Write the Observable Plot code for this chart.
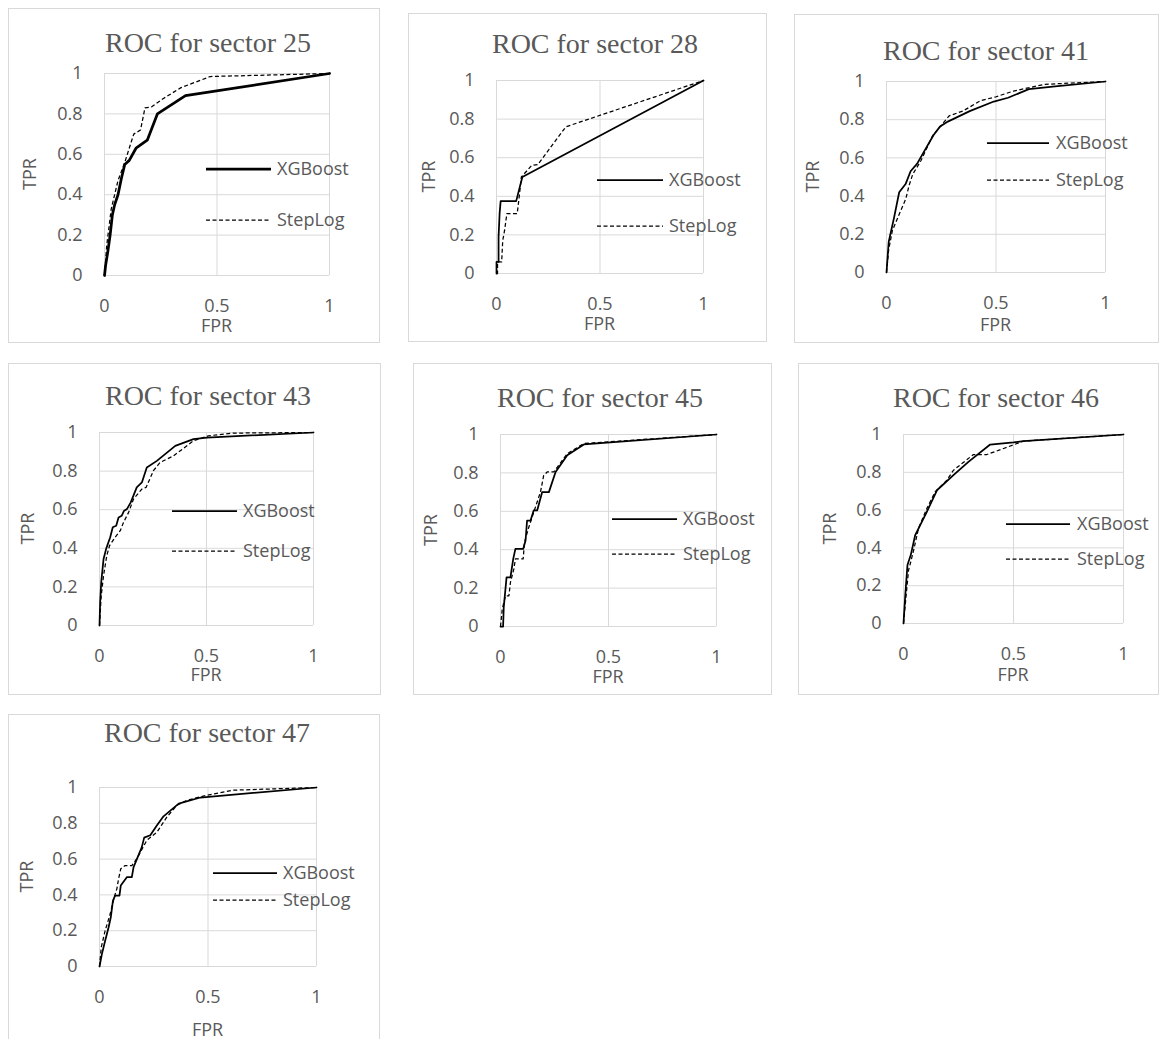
<!DOCTYPE html>
<html><head><meta charset="utf-8">
<script src="https://cdn.jsdelivr.net/npm/d3@7"></script>
<script src="https://cdn.jsdelivr.net/npm/@observablehq/plot@0.6"></script>
<style>
html,body{margin:0;padding:0;background:#fff;}
body{width:1160px;height:1039px;overflow:hidden;position:relative;}
.panel{position:absolute;}
.panel svg{position:absolute;left:0;top:0;overflow:visible;max-width:none;}
</style></head><body>
<script>
// ---- data ----
const sectors = ["25","28","41","43","45","46","47"];
const xTicks = [0, 0.5, 1];
const yTicks = [0, 0.2, 0.4, 0.6, 0.8, 1];
const seriesNames = ["XGBoost", "StepLog"];

const xgb25 = [[0,0],[0.005,0.05],[0.015,0.12],[0.025,0.2],[0.035,0.3],[0.045,0.35],[0.06,0.4],[0.075,0.48],[0.09,0.55],[0.11,0.57],[0.14,0.63],[0.19,0.67],[0.235,0.8],[0.36,0.89],[1,1]];
const step25 = [[0,0],[0.01,0.15],[0.03,0.33],[0.06,0.47],[0.09,0.56],[0.13,0.70],[0.16,0.72],[0.18,0.83],[0.21,0.835],[0.26,0.875],[0.34,0.93],[0.47,0.985],[1,1]];

const xgb28 = [[0,0],[0,0.06],[0.01,0.06],[0.01,0.19],[0.015,0.31],[0.02,0.375],[0.095,0.375],[0.125,0.5],[1,1]];
const step28 = [[0,0],[0.005,0],[0.005,0.06],[0.025,0.06],[0.03,0.17],[0.04,0.23],[0.05,0.31],[0.1,0.31],[0.11,0.4],[0.12,0.5],[0.17,0.56],[0.2,0.565],[0.335,0.76],[1,1]];

const xgb41 = [[0,0],[0.01,0.16],[0.035,0.29],[0.058,0.42],[0.088,0.465],[0.11,0.53],[0.14,0.57],[0.17,0.63],[0.215,0.72],[0.245,0.765],[0.28,0.79],[0.38,0.845],[0.49,0.895],[0.555,0.915],[0.65,0.96],[0.77,0.975],[1,1]];
const step41 = [[0,0],[0.01,0.12],[0.027,0.22],[0.058,0.305],[0.088,0.385],[0.103,0.455],[0.12,0.515],[0.157,0.585],[0.21,0.715],[0.248,0.768],[0.286,0.82],[0.35,0.846],[0.43,0.9],[0.5,0.92],[0.58,0.95],[0.72,0.985],[1,1]];

const xgb43 = [[0,0],[0.003,0.12],[0.008,0.224],[0.019,0.345],[0.031,0.397],[0.05,0.457],[0.062,0.509],[0.078,0.517],[0.089,0.56],[0.104,0.569],[0.115,0.595],[0.128,0.603],[0.146,0.638],[0.174,0.716],[0.198,0.741],[0.221,0.819],[0.268,0.853],[0.354,0.931],[0.439,0.966],[0.502,0.974],[1,1]];
const step43 = [[0,0],[0.008,0.155],[0.019,0.259],[0.034,0.362],[0.047,0.414],[0.073,0.457],[0.097,0.491],[0.112,0.534],[0.136,0.586],[0.159,0.655],[0.198,0.707],[0.218,0.716],[0.252,0.802],[0.283,0.845],[0.346,0.879],[0.439,0.957],[0.509,0.983],[0.626,0.997],[1,1]];

const xgb45 = [[0,0],[0.012,0],[0.015,0.1],[0.028,0.256],[0.046,0.256],[0.059,0.352],[0.069,0.404],[0.105,0.404],[0.116,0.448],[0.123,0.552],[0.139,0.552],[0.154,0.605],[0.17,0.605],[0.193,0.7],[0.224,0.7],[0.255,0.805],[0.309,0.892],[0.386,0.948],[0.432,0.953],[1,1]];
const step45 = [[0,0],[0.008,0.09],[0.023,0.16],[0.039,0.16],[0.046,0.23],[0.062,0.3],[0.069,0.352],[0.105,0.352],[0.111,0.439],[0.131,0.517],[0.154,0.596],[0.185,0.7],[0.2,0.787],[0.216,0.805],[0.247,0.805],[0.309,0.9],[0.386,0.953],[1,1]];

const xgb46 = [[0,0],[0.008,0.15],[0.018,0.309],[0.033,0.362],[0.053,0.467],[0.076,0.52],[0.106,0.591],[0.152,0.705],[0.227,0.785],[0.295,0.855],[0.394,0.947],[0.5,0.958],[0.545,0.965],[1,1]];
const step46 = [[0,0],[0.012,0.15],[0.023,0.282],[0.033,0.326],[0.048,0.397],[0.068,0.503],[0.106,0.608],[0.144,0.697],[0.197,0.758],[0.227,0.811],[0.318,0.894],[0.379,0.894],[0.455,0.926],[0.545,0.965],[1,1]];

const xgb47 = [[0,0],[0.011,0.069],[0.026,0.144],[0.042,0.219],[0.052,0.275],[0.062,0.368],[0.072,0.396],[0.092,0.396],[0.098,0.452],[0.126,0.499],[0.149,0.499],[0.157,0.555],[0.195,0.667],[0.206,0.72],[0.234,0.733],[0.265,0.789],[0.295,0.839],[0.365,0.91],[0.465,0.944],[1,1]];
const step47 = [[0,0],[0.008,0.107],[0.026,0.2],[0.049,0.293],[0.068,0.387],[0.08,0.434],[0.088,0.49],[0.098,0.546],[0.118,0.564],[0.149,0.564],[0.172,0.602],[0.218,0.705],[0.265,0.751],[0.311,0.836],[0.357,0.901],[0.403,0.929],[0.495,0.957],[0.618,0.985],[1,1]];

const xgbBySector = {"25":xgb25,"28":xgb28,"41":xgb41,"43":xgb43,"45":xgb45,"46":xgb46,"47":xgb47};
const stepBySector = {"25":step25,"28":step28,"41":step41,"43":step43,"45":step45,"46":step46,"47":step47};

// ---- layout (page pixels) ----
// box: [left, top, width, height]; plot: [x0, x1, yTop, yBottom]
const layout = {
  "25": {box:[8,8,372,335],   plot:[104,329,73,275],  title:[208,52],  tprX:30,  fprY:326,  leg:[206,271,277,169,220], xw:2.75},
  "28": {box:[408,13,359,329],plot:[496,703,80,273],  title:[595,53],  tprX:429, fprY:324,  leg:[597,663,669,180,226], xw:1.75},
  "41": {box:[794,14,365,329],plot:[886,1105,81,272], title:[986,60],  tprX:813, fprY:325,  leg:[987,1049,1056,143,180], xw:1.75},
  "43": {box:[8,363,373,332], plot:[99,313,432,625],  title:[208,405], tprX:28,  fprY:675,  leg:[172,237,243,511,551], xw:1.75},
  "45": {box:[413,363,359,332],plot:[500,716,434,626],title:[600,407], tprX:431, fprY:677,  leg:[612,677,683,519,554], xw:1.75},
  "46": {box:[798,363,361,332],plot:[903,1123,434,623],title:[996,407],tprX:830, fprY:675,  leg:[1006,1070,1077,524,559], xw:1.75},
  "47": {box:[8,714,372,340], plot:[99,316,787,966],  title:[207,742], tprX:27,  fprY:1030, leg:[213,277,283,873,900], xw:1.75}
};

const gray = "#595959";
const gridColor = "#d9d9d9";
const sansFont = '"Open Sans", "Noto Sans", sans-serif';
const serifFont = '"Liberation Serif", "DejaVu Serif", serif';
const dash = "4,2.5";

for (const s of sectors) {
  const L = layout[s];
  const [bx, by, bw, bh] = L.box;
  const [x0, x1, yT, yB] = L.plot;
  const div = document.createElement("div");
  div.className = "panel";
  Object.assign(div.style, {left: bx + "px", top: by + "px", width: bw + "px", height: bh + "px"});
  document.body.appendChild(div);

  const chart = Plot.plot({
    width: bw, height: bh,
    marginLeft: x0 - bx, marginRight: bx + bw - x1,
    marginTop: yT - by, marginBottom: by + bh - yB,
    x: {domain: [0, 1]},
    y: {domain: [0, 1]},
    style: {fontFamily: sansFont, fontSize: "18px", color: gray, background: "transparent", overflow: "visible"},
    marks: [
      Plot.gridX(xTicks, {stroke: gridColor, strokeOpacity: 1, strokeWidth: 1}),
      Plot.gridY(yTicks, {stroke: gridColor, strokeOpacity: 1, strokeWidth: 1}),
      Plot.axisX(xTicks, {tickSize: 0, tickPadding: 24, label: null, fill: gray, tickFormat: d => String(d)}),
      Plot.axisY(yTicks, {tickSize: 0, tickPadding: 22, label: null, fill: gray, tickFormat: d => String(d)}),
      Plot.line(stepBySector[s], {x: d => d[0], y: d => d[1], stroke: "#000", strokeWidth: 1.25, strokeDasharray: dash, strokeLinecap: "butt"}),
      Plot.line(xgbBySector[s], {x: d => d[0], y: d => d[1], stroke: "#000", strokeWidth: L.xw})
    ]
  });
  div.appendChild(chart);

  // overlay: border, title, axis labels, legend (coords relative to box)
  const ns = "http://www.w3.org/2000/svg";
  const ov = d3.select(div).append("svg")
    .attr("xmlns", ns).attr("width", bw).attr("height", bh)
    .style("pointer-events", "none");
  ov.append("rect").attr("x", 0.5).attr("y", 0.5).attr("width", bw - 1).attr("height", bh - 1)
    .attr("fill", "none").attr("stroke", gridColor).attr("stroke-width", 1);
  ov.append("text").attr("x", L.title[0] - bx).attr("y", L.title[1] - by)
    .attr("text-anchor", "middle").attr("fill", gray)
    .style("font-family", serifFont).style("font-size", "28px")
    .text("ROC for sector " + s);
  const cy = (yT + yB) / 2 - by;
  ov.append("text").attr("transform", `translate(${L.tprX - bx},${cy}) rotate(-90)`)
    .attr("text-anchor", "middle").attr("dy", "0.36em").attr("fill", gray)
    .style("font-family", sansFont).style("font-size", "18px").text("TPR");
  ov.append("text").attr("x", (x0 + x1) / 2 - bx).attr("y", L.fprY - by)
    .attr("text-anchor", "middle").attr("dy", "0.36em").attr("fill", gray)
    .style("font-family", sansFont).style("font-size", "18px").text("FPR");
  const [lx1, lx2, tx, ly1, ly2] = L.leg;
  [[ly1, L.xw, null], [ly2, 1.25, dash]].forEach(([ly, w, da], i) => {
    const ln = ov.append("line").attr("x1", lx1 - bx).attr("x2", lx2 - bx)
      .attr("y1", ly - by).attr("y2", ly - by).attr("stroke", "#000").attr("stroke-width", w);
    if (da) ln.attr("stroke-dasharray", da);
    ov.append("text").attr("x", tx - bx).attr("y", ly - by).attr("dy", "0.36em")
      .attr("fill", gray).style("font-family", sansFont).style("font-size", "18px")
      .text(seriesNames[i]);
  });
}
</script>
</body></html>
